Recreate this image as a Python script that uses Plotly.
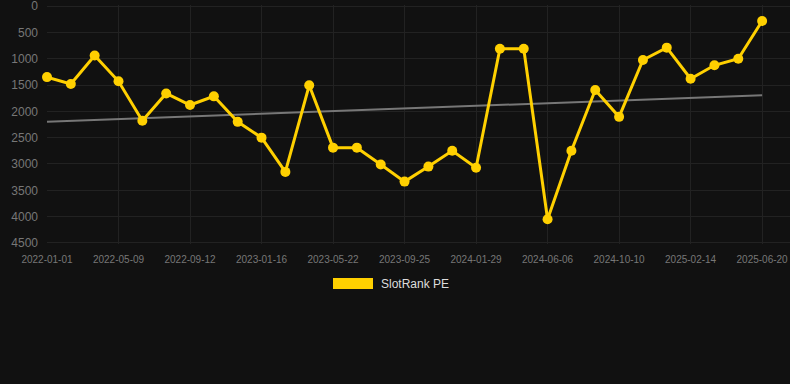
import numpy as np
import plotly.graph_objects as go

dates = [
    "2022-01-01", "2022-02-12", "2022-03-26", "2022-05-09", "2022-06-20", "2022-08-01",
    "2022-09-12", "2022-10-24", "2022-12-05", "2023-01-16", "2023-02-27", "2023-04-10",
    "2023-05-22", "2023-07-03", "2023-08-14", "2023-09-25", "2023-11-06", "2023-12-18",
    "2024-01-29", "2024-03-12", "2024-04-24", "2024-06-06", "2024-07-18", "2024-08-29",
    "2024-10-10", "2024-11-22", "2025-01-03", "2025-02-14", "2025-03-28", "2025-05-09",
    "2025-06-20",
]
rank_values = [
    1350, 1480, 940, 1430, 2180, 1660, 1880, 1715, 2200, 2500, 3150, 1505,
    2690, 2690, 3010, 3335, 3050, 2750, 3070, 810, 810, 4050, 2750, 1595,
    2105, 1025, 790, 1380, 1125, 1000, 285,
]
tick_labels = [
    "2022-01-01", "2022-05-09", "2022-09-12", "2023-01-16", "2023-05-22", "2023-09-25",
    "2024-01-29", "2024-06-06", "2024-10-10", "2025-02-14", "2025-06-20",
]
y_ticks = [0, 500, 1000, 1500, 2000, 2500, 3000, 3500, 4000, 4500]
series_name = "SlotRank PE"

idx = np.arange(len(rank_values))
slope, intercept = np.polyfit(idx, rank_values, 1)
trend = slope * idx + intercept

W, H = 790, 384
ML, MR, MT, MB = 47, 0, 5, 140
PW, PH = W - ML - MR, H - MT - MB

fig = go.Figure()
fig.add_trace(go.Scatter(
    x=dates, y=list(trend), mode="lines",
    line=dict(color="#777777", width=2), hoverinfo="skip", showlegend=False,
))
fig.add_trace(go.Scatter(
    x=dates, y=rank_values, mode="lines+markers", name=series_name,
    line=dict(color="#FFD000", width=3),
    marker=dict(color="#FFD000", size=10),
    showlegend=False, cliponaxis=False,
))

fig.update_layout(
    width=W, height=H,
    margin=dict(l=ML, r=MR, t=MT, b=MB),
    paper_bgcolor="#111111", plot_bgcolor="#111111",
    font=dict(family="Liberation Sans, Arial, sans-serif", color="#777777"),
    xaxis=dict(
        type="category", range=[0, 31.17],
        tickmode="array", tickvals=tick_labels, ticktext=tick_labels,
        tickfont=dict(size=10, color="#777777"),
        showgrid=True, gridcolor="#222222", gridwidth=1,
        zeroline=False, showline=False, ticks="", ticklabelstandoff=8,
    ),
    yaxis=dict(
        range=[4520, -20], tickvals=y_ticks,
        tickfont=dict(size=12, color="#777777"),
        showgrid=True, gridcolor="#222222", gridwidth=1,
        zeroline=False, showline=False, ticks="", ticklabelstandoff=8,
        ticklabeloverflow="allow",
    ),
    shapes=[dict(
        type="rect", xref="paper", yref="paper",
        x0=(333 - ML) / PW, x1=(373 - ML) / PW,
        y0=(H - MB - 289) / PH, y1=(H - MB - 278) / PH,
        fillcolor="#FFD000", line=dict(width=0),
    )],
    annotations=[dict(
        text=series_name, xref="paper", yref="paper",
        x=(379 - ML) / PW, y=(H - MB - 284) / PH,
        xanchor="left", yanchor="middle", showarrow=False,
        font=dict(size=12, color="#DDDDDD"),
    )],
)

fig.write_html(
    "out.html",
    config={"displayModeBar": False},
    post_script="document.body.style.margin='0';document.body.style.background='#111111';",
)
